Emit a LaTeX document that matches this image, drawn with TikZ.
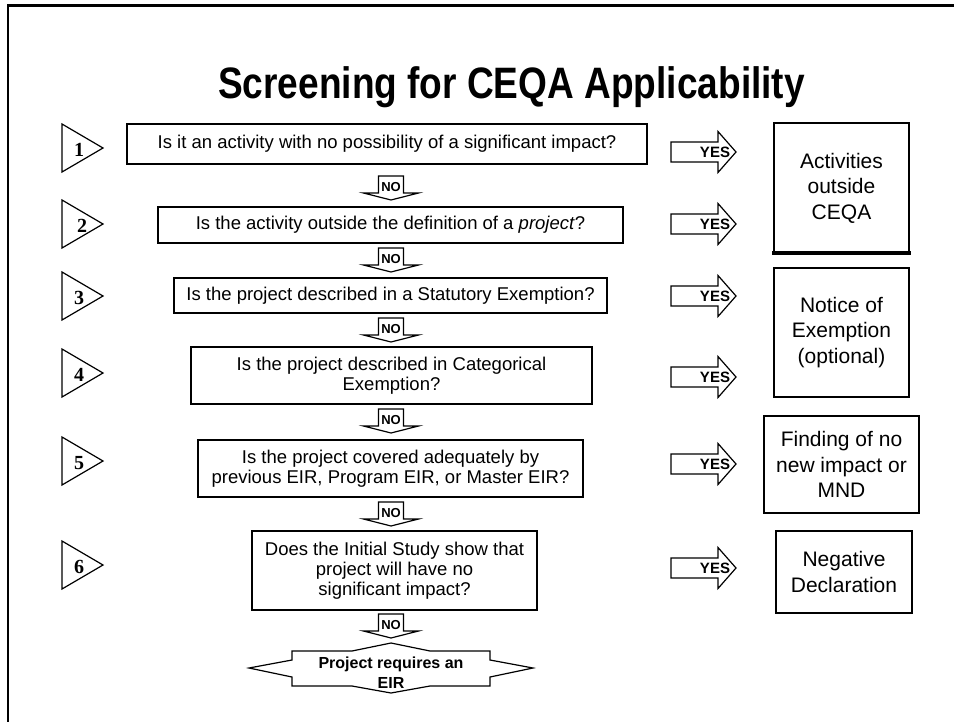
\documentclass[tikz,border=0pt]{standalone}
\usepackage{fontspec}
\usepackage{graphicx}
\setmainfont{Liberation Sans}
\newfontfamily\numfont{Liberation Serif}
\usetikzlibrary{calc}

% block arrow pointing down, drawn around its "NO" label
\newcommand\drawnoarrow[1]{%
  \draw[blockarrow] ([shift={(-12.5,-11)}]#1.center) -- ([shift={(12.5,-11)}]#1.center)
    -- ([shift={(12.5,6)}]#1.center) -- ([shift={(27.5,6)}]#1.center)
    -- ([shift={(0,13)}]#1.center) -- ([shift={(-27.5,6)}]#1.center)
    -- ([shift={(-12.5,6)}]#1.center) -- cycle;}
% block arrow pointing right, drawn around its "YES" label
\newcommand\drawyesarrow[1]{%
  \draw[blockarrow] ([shift={(-44,-10)}]#1.center) -- ([shift={(3,-10)}]#1.center)
    -- ([shift={(3,-20.5)}]#1.center) -- ([shift={(21,0)}]#1.center)
    -- ([shift={(3,20.5)}]#1.center) -- ([shift={(3,10)}]#1.center)
    -- ([shift={(-44,10)}]#1.center) -- cycle;}
% numbered step marker: right-pointing triangle
\newcommand\drawsteptri[1]{%
  \draw[blockarrow] ([shift={(0,-24)}]#1) -- ([shift={(0,24)}]#1)
    -- ([shift={(41,0)}]#1) -- cycle;}

\begin{document}
\begin{tikzpicture}[x=1pt,y=-1pt,
  qbox/.style={draw, line width=2pt, align=center, inner sep=2pt,
    font=\fontsize{18.5}{20}\selectfont},
  outbox/.style={draw, line width=2pt, align=center, inner sep=2pt,
    font=\fontsize{21}{25.5}\selectfont},
  nolabel/.style={inner sep=0pt, font=\bfseries\fontsize{13}{13}\selectfont},
  yeslabel/.style={inner sep=0pt, font=\bfseries\fontsize{15}{15}\selectfont},
  stepnum/.style={inner sep=0pt, font=\numfont\bfseries\fontsize{20}{20}\selectfont},
  blockarrow/.style={draw, line width=1.2pt, line join=miter}]

\useasboundingbox (0,0) rectangle (954,721);

% slide frame
\draw[line width=2.5pt] (8,725) -- (8,5.3) -- (958,5.3);

% title
\node[anchor=base, inner sep=0pt] (title) at (511.5,98)
  {\scalebox{0.842}[1]{\bfseries\fontsize{44}{48}\selectfont Screening for CEQA Applicability}};

% question boxes
\node[qbox, minimum width=520, minimum height=40] (q1) at (387,144)
  {Is it an activity with no possibility of a significant impact?};
\node[qbox, minimum width=465, minimum height=36] (q2) at (390.5,225)
  {Is the activity outside the definition of a \textit{project}?};
\node[qbox, minimum width=433, minimum height=35] (q3) at (390.5,295.5)
  {Is the project described in a Statutory Exemption?};
\node[qbox, minimum width=401, minimum height=57] (q4) at (391.5,375.5)
  {Is the project described in Categorical\\Exemption?};
\node[qbox, minimum width=385, minimum height=57] (q5) at (390.5,468.5)
  {Is the project covered adequately by\\previous EIR, Program EIR, or Master EIR?};
\node[qbox, minimum width=285, minimum height=79] (q6) at (394.5,570.5)
  {Does the Initial Study show that\\project will have no\\significant impact?};

% step numbers
\foreach \i/\y/\nx in {1/148/79, 2/224/82, 3/296/79, 4/373/79, 5/461/79, 6/565/79}{
  \coordinate (t\i) at (62,\y);
  \node[stepnum] (n\i) at (\nx,\y+2) {\i};
  \drawsteptri{t\i}
}

% NO arrows between the questions
\foreach \i/\y in {1/187, 2/259, 3/329, 4/420, 5/513, 6/625}{
  \node[nolabel] (no\i) at (391,\y) {NO};
  \drawnoarrow{no\i}
}

% YES arrows towards the outcomes
\foreach \i/\y in {1/152, 2/224, 3/296, 4/377, 5/464, 6/568}{
  \node[yeslabel] (yes\i) at (715,\y) {YES};
  \drawyesarrow{yes\i}
}

% outcome boxes
\node[outbox, minimum width=135, minimum height=130] (outA) at (841.5,188)
  {Activities\\outside\\CEQA};
\draw[line width=4pt] ([shift={(-1,-1)}]outA.south west) -- ([shift={(1,-1)}]outA.south east);
\node[outbox, minimum width=135, minimum height=129] (outB) at (841.5,332.5)
  {Notice of\\Exemption\\(optional)};
\node[outbox, minimum width=155, minimum height=97] (outC) at (841.5,464.5)
  {Finding of no\\new impact or\\MND};
\node[outbox, minimum width=136, minimum height=82] (outD) at (844,572)
  {Negative\\Declaration};

% final result banner
\node[align=center, inner sep=0pt, font=\bfseries\fontsize{16}{20}\selectfont] (eir) at (391,673)
  {Project requires an\\EIR};
\draw[blockarrow] ([shift={(-142,-5)}]eir.center) -- ([shift={(-99,-13)}]eir.center)
  -- ([shift={(-99,-22)}]eir.center) -- ([shift={(-39,-22)}]eir.center)
  -- ([shift={(0,-30)}]eir.center) -- ([shift={(39,-22)}]eir.center)
  -- ([shift={(99,-22)}]eir.center) -- ([shift={(99,-13)}]eir.center)
  -- ([shift={(142,-5)}]eir.center) -- ([shift={(99,4)}]eir.center)
  -- ([shift={(99,13)}]eir.center) -- ([shift={(39,13)}]eir.center)
  -- ([shift={(0,20)}]eir.center) -- ([shift={(-39,13)}]eir.center)
  -- ([shift={(-99,13)}]eir.center) -- ([shift={(-99,4)}]eir.center) -- cycle;
\end{tikzpicture}
\end{document}
